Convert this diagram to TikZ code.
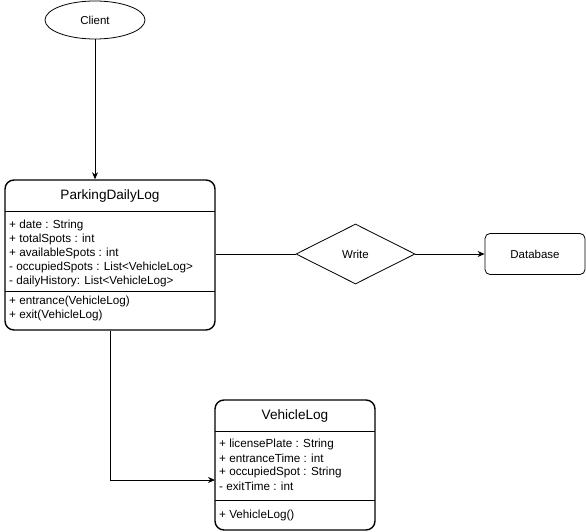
\documentclass[tikz,border=0pt]{standalone}
\usepackage{fontspec}
\setmainfont{Liberation Sans}
\usetikzlibrary{shapes.geometric,arrows.meta}
\begin{document}
\begin{tikzpicture}[x=1pt,y=-1pt,
  umlbox/.style={draw,line width=1.4pt,rounded corners=9pt,rectangle,inner sep=0pt},
  thinbox/.style={draw,line width=0.8pt,rounded corners=5pt,rectangle,inner sep=0pt},
  title/.style={font=\fontsize{13.6}{15}\selectfont,inner sep=0pt},
  attr/.style={font=\fontsize{11.7}{14}\selectfont,anchor=west,inner sep=0pt},
  lbl/.style={font=\fontsize{11.5}{13}\selectfont,inner sep=0pt},
  sep/.style={line width=0.8pt},
  conn/.style={line width=0.8pt},
  arr/.style={conn,-{Stealth[length=7pt,width=6pt]}}]
\useasboundingbox (0,0) rectangle (586,532);
% Client
\node[draw,ellipse,line width=0.8pt,minimum width=100,minimum height=38,lbl] (Client) at (95,20) {Client};
% ParkingDailyLog
\node[umlbox,minimum width=210,minimum height=150] (PDL) at (110,255) {};
\node[title] (PDLt) at (110,196) {ParkingDailyLog};
\coordinate (p1) at (5,211);
\coordinate (p2) at (215,211);
\coordinate (p3) at (5,291);
\coordinate (p4) at (215,291);
\draw[sep] (p1) -- (p2);
\draw[sep] (p3) -- (p4);
\node[attr] (a1) at (9,225) {+ date : String};
\node[attr] (a2) at (9,239) {+ totalSpots : int};
\node[attr] (a3) at (9,253) {+ availableSpots : int};
\node[attr] (a4) at (9,267) {- occupiedSpots : List<VehicleLog>};
\node[attr] (a5) at (9,281) {- dailyHistory: List<VehicleLog>};
\node[attr] (m1) at (9,301) {+ entrance(VehicleLog)};
\node[attr] (m2) at (9,315) {+ exit(VehicleLog)};
% Write diamond
\node[draw,diamond,aspect=2,line width=0.8pt,minimum width=119,minimum height=60,inner sep=0pt,lbl] (W) at (355.5,254) {Write};
% Database
\node[thinbox,minimum width=100,minimum height=41,lbl] (DB) at (535,254) {Database};
% VehicleLog
\node[umlbox,minimum width=160,minimum height=130] (VL) at (295,465) {};
\node[title] (VLt) at (295,416) {VehicleLog};
\coordinate (q1) at (215,431);
\coordinate (q2) at (375,431);
\coordinate (q3) at (215,500);
\coordinate (q4) at (375,500);
\draw[sep] (q1) -- (q2);
\draw[sep] (q3) -- (q4);
\node[attr] (b1) at (219,444) {+ licensePlate : String};
\node[attr] (b2) at (219,458) {+ entranceTime : int};
\node[attr] (b3) at (219,472) {+ occupiedSpot : String};
\node[attr] (b4) at (219,486) {- exitTime : int};
\node[attr] (n1) at (219,515) {+ VehicleLog()};
% connectors
\coordinate (vlin) at (215,480);
\draw[arr] (Client.south) -- (Client.south |- PDL.north);
\draw[conn] (PDL.east |- W.west) -- (W.west);
\draw[arr] (W.east) -- (DB.west);
\draw[arr] (PDL.south) |- (vlin);
\end{tikzpicture}
\end{document}
